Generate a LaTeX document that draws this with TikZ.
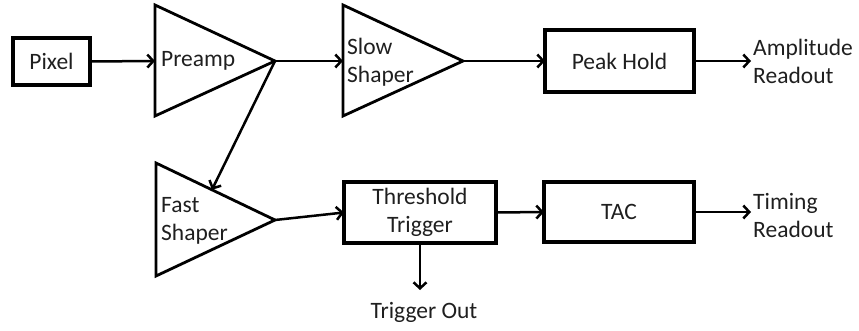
\documentclass[tikz,border=0pt]{standalone}
\usepackage{fontspec}
\setmainfont{Carlito}
\usetikzlibrary{arrows.meta,calc}
\begin{document}
\begin{tikzpicture}[x=1pt,y=-1pt,
  txt/.style={font=\fontsize{23.5}{28}\selectfont, text=black!88, inner sep=0pt, align=left},
  block/.style={draw, line width=3.4pt, txt, align=center, outer sep=0pt},
  amp/.style={draw, line width=2.8pt, line join=miter},
  conn/.style={line width=2.5pt, -{Straight Barb[length=6pt,width=13pt,line width=2.5pt]}}]
\useasboundingbox (0,0) rectangle (859,331);

% rectangular blocks
\node[block, minimum width=77pt, minimum height=47pt] (pixel) at (51.5,61.5) {Pixel};
\node[block, minimum width=149pt, minimum height=62pt] (peak) at (619.5,61) {Peak Hold};
\node[block, minimum width=152pt, minimum height=61pt] (thresh) at (420,212.5) {Threshold\\Trigger};
\node[block, minimum width=150pt, minimum height=60pt] (tac) at (619,212) {TAC};

% amplifier triangles
\coordinate (preTop) at (155,5);  \coordinate (preBot) at (155,116); \coordinate (preOut) at (275,61);
\coordinate (preIn) at (155,61);
\coordinate (slowTop) at (343,5); \coordinate (slowBot) at (343,116); \coordinate (slowOut) at (463,61);
\coordinate (slowIn) at (343,61);
\coordinate (fastTop) at (156,163); \coordinate (fastBot) at (156,276); \coordinate (fastOut) at (275,220);
\coordinate (fastHit) at ($(fastTop)!0.47!(fastOut)$);

\draw[amp] (preTop) -- (preOut) -- (preBot) -- cycle;
\draw[amp] (slowTop) -- (slowOut) -- (slowBot) -- cycle;
\draw[amp] (fastTop) -- (fastOut) -- (fastBot) -- cycle;

\node[txt, anchor=west] (prelbl) at (161,61) {Preamp};
\node[txt, anchor=west] (slowlbl) at (347,62) {Slow\\Shaper};
\node[txt, anchor=west] (fastlbl) at (161,221) {Fast\\Shaper};

% outputs
\node[txt, anchor=west] (amplbl) at (753,61) {Amplitude\\Readout};
\node[txt, anchor=west] (timlbl) at (753,216) {Timing\\Readout};
\node[txt] (triglbl) at (424,312) {Trigger Out};
\coordinate (ampEnd) at (751,61);
\coordinate (timEnd) at (751,212);
\coordinate (trigEnd) at ($(thresh.south)+(0,47)$);

% signal connections
\draw[conn] (pixel.east) -- (preIn);
\draw[conn] (preOut) -- (slowIn);
\draw[conn] (slowOut) -- (peak.west);
\draw[conn] (peak.east) -- (ampEnd);
\draw[conn] (preOut) -- (fastHit);
\draw[conn] (fastOut) -- (thresh.west);
\draw[conn] (thresh.east) -- (tac.west);
\draw[conn] (tac.east) -- (timEnd);
\draw[conn] (thresh.south) -- (trigEnd);
\end{tikzpicture}
\end{document}
